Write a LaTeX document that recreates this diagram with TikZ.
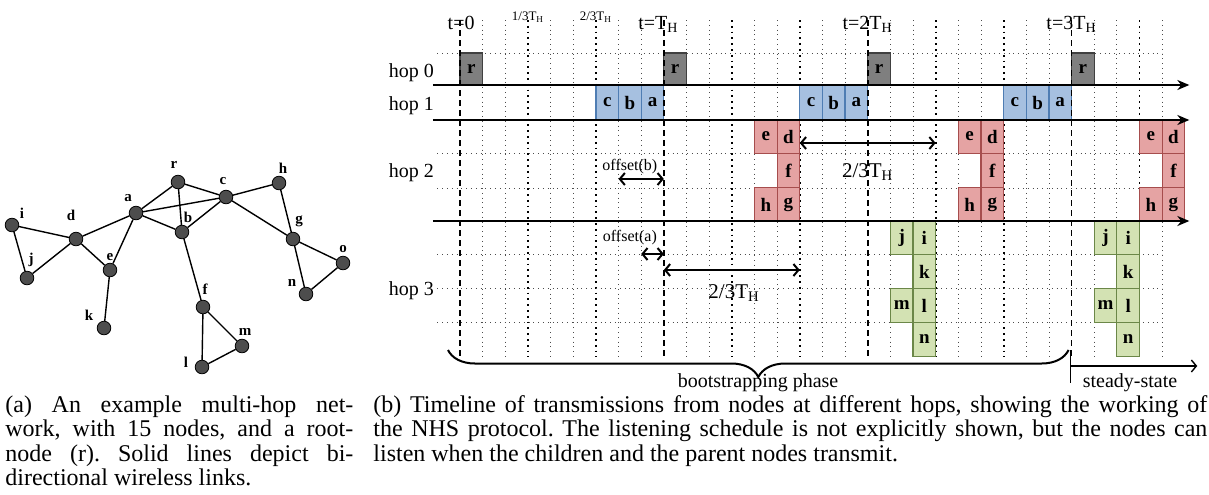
\documentclass[tikz,border=0pt]{standalone}
\usepackage{fontspec}
\setmainfont{Liberation Serif}
\usetikzlibrary{arrows.meta,decorations.pathreplacing}
\definecolor{vtxgray}{HTML}{4D4D4D}
\definecolor{rootfill}{HTML}{7F7F7F}
\definecolor{bluefill}{HTML}{A6C0E0}
\definecolor{blueline}{HTML}{4F7DB3}
\definecolor{redfill}{HTML}{E5A3A3}
\definecolor{redline}{HTML}{A64D4D}
\definecolor{greenfill}{HTML}{D3E2B3}
\definecolor{greenline}{HTML}{6B8748}
\frenchspacing

\begin{document}
\begin{tikzpicture}[x=0.5pt, y=-0.5pt,
  vtx/.style={circle, draw, fill=vtxgray, minimum size=6.8pt, inner sep=0pt},
  lbl/.style={font=\bfseries\fontsize{7.5}{8}\selectfont, inner sep=0pt},
  link/.style={line width=0.7pt},
  caption/.style={inner sep=0pt, align=justify, font=\fontsize{12}{12.3}\selectfont}]
  \tikzset{pkt/.style={draw, line width=0.6pt, minimum width=11.325pt, inner sep=0pt,
    outer sep=0pt, font=\bfseries\fontsize{9.5}{10}\selectfont}}
  \tikzset{p0/.style={pkt, fill=rootfill, draw=black!75, minimum height=16pt}}
  \tikzset{p1/.style={pkt, fill=bluefill, draw=blueline, minimum height=17.5pt}}
  \tikzset{p2/.style={pkt, fill=redfill, draw=redline, minimum height=16.75pt}}
  \tikzset{p3/.style={pkt, fill=greenfill, draw=greenline, minimum height=17pt}}
  \tikzset{grid/.style={black!70, line width=0.4pt, dotted}}
  \tikzset{third/.style={black, line width=0.9pt, dotted}}
  \tikzset{tperiod/.style={black, line width=0.9pt, dash pattern=on 3pt off 2pt}}
  \tikzset{axis/.style={line width=1.3pt, -{Stealth[length=6pt, width=5pt]}}}
  \tikzset{span/.style={line width=1pt, {Straight Barb[length=2.5pt, width=6pt]}-{Straight Barb[length=2.5pt, width=6pt]}}}
  \useasboundingbox (0,0) rectangle (1209,494);

  % (a) network
  \node[vtx] (r) at (178,182) {};
  \node[vtx] (c) at (226,197) {};
  \node[vtx] (h) at (279,183) {};
  \node[vtx] (a) at (136,213) {};
  \node[vtx] (b) at (182,232) {};
  \node[vtx] (i) at (12,225) {};
  \node[vtx] (d) at (76,239) {};
  \node[vtx] (g) at (293,239) {};
  \node[vtx] (o) at (343,263) {};
  \node[vtx] (j) at (27,278) {};
  \node[vtx] (e) at (110,270) {};
  \node[vtx] (n) at (306,294) {};
  \node[vtx] (f) at (203,307) {};
  \node[vtx] (k) at (104,328) {};
  \node[vtx] (m) at (242,346) {};
  \node[vtx] (l) at (202,367) {};
  \draw[link] (r) -- (a);
  \draw[link] (r) -- (c);
  \draw[link] (r) -- (b);
  \draw[link] (a) -- (c);
  \draw[link] (a) -- (b);
  \draw[link] (a) -- (d);
  \draw[link] (a) -- (e);
  \draw[link] (b) -- (c);
  \draw[link] (b) -- (f);
  \draw[link] (c) -- (h);
  \draw[link] (c) -- (g);
  \draw[link] (h) -- (g);
  \draw[link] (g) -- (o);
  \draw[link] (g) -- (n);
  \draw[link] (n) -- (o);
  \draw[link] (d) -- (i);
  \draw[link] (d) -- (j);
  \draw[link] (d) -- (e);
  \draw[link] (i) -- (j);
  \draw[link] (e) -- (k);
  \draw[link] (f) -- (m);
  \draw[link] (f) -- (l);
  \draw[link] (l) -- (m);
  \node[lbl] (rl) at (174,165) {r};
  \node[lbl] (cl) at (223,181) {c};
  \node[lbl] (hl) at (283,168) {h};
  \node[lbl] (al) at (128,198) {a};
  \node[lbl] (bl) at (188,217) {b};
  \node[lbl] (il) at (22,213) {i};
  \node[lbl] (dl) at (71,215) {d};
  \node[lbl] (gl) at (299,221) {g};
  \node[lbl] (ol) at (343,249) {o};
  \node[lbl] (jl) at (31,260) {j};
  \node[lbl] (el) at (110,257) {e};
  \node[lbl] (nl) at (292,283) {n};
  \node[lbl] (fl) at (205,289) {f};
  \node[lbl] (kl) at (89,315) {k};
  \node[lbl] (ml) at (245,332) {m};
  \node[lbl] (ll) at (186,362) {l};

  % (b) timeline, one x unit = one slot
  \begin{scope}[xshift=230pt, x=11.325pt]
    \foreach \k in {1,2,4,5,7,8,10,11,13,14,16,17,19,20,22,23,25,26,28,29,31}
      \draw[grid] (\k,20) -- (\k,357);
    \foreach \k in {3,6,12,15,21,24,30}
      \draw[third] (\k,20) -- (\k,357);
    \foreach \y in {53,153,188,254,288,322}
      \draw[grid] (-1,\y) -- (31,\y);
    % hop 0
    \foreach \n/\o in {0/0,1/9,2/18,3/27}
      \node[p0] (r\n) at (\o+0.5,69) {r};
    % hop 1
    \foreach \n/\o in {1/6,2/15,3/24} {
      \node[p1] (c\n) at (\o+0.5,102.5) {c};
      \node[p1] (b\n) at (\o+1.5,102.5) {b};
      \node[p1] (a\n) at (\o+2.5,102.5) {a};
    }
    % hop 2
    \foreach \n/\o in {1/13,2/22,3/30} {
      \node[p2] (e\n) at (\o+0.5,136.5) {e};
      \node[p2] (d\n) at (\o+1.5,136.5) {d};
      \node[p2] (f\n) at (\o+1.5,170.5) {f};
      \node[p2] (h\n) at (\o+0.5,204.5) {h};
      \node[p2] (g\n) at (\o+1.5,204.5) {g};
    }
    % hop 3
    \foreach \n/\o in {1/19,2/28} {
      \node[p3] (j\n) at (\o+0.5,237.5) {j};
      \node[p3] (i\n) at (\o+1.5,237.5) {i};
      \node[p3] (k\n) at (\o+1.5,271.5) {k};
      \node[p3] (m\n) at (\o+0.5,305.5) {m};
      \node[p3] (l\n) at (\o+1.5,305.5) {l};
      \node[p3] (n\n) at (\o+1.5,339.5) {n};
    }
    \foreach \k in {0,9,18,27}
      \draw[tperiod] (\k,20) -- (\k,357);
    \foreach \y in {85,120,221}
      \draw[axis] (-1.2,\y) -- (32.2,\y);
    % time marks
    \node[anchor=base, font=\fontsize{10}{12}\selectfont] (t0) at (0.05,29) {t=0};
    \node[anchor=base, font=\fontsize{6.5}{8}\selectfont] (t13) at (3,20) {1/3T\textsubscript{H}};
    \node[anchor=base, font=\fontsize{6.5}{8}\selectfont] (t23) at (6,20) {2/3T\textsubscript{H}};
    \node[anchor=base, font=\fontsize{10}{12}\selectfont] (t1) at (8.76,29) {t=T\textsubscript{H}};
    \node[anchor=base, font=\fontsize{10}{12}\selectfont] (t2) at (18,29) {t=2T\textsubscript{H}};
    \node[anchor=base, font=\fontsize{10}{12}\selectfont] (t3) at (27,29) {t=3T\textsubscript{H}};
    % hops
    \node[anchor=base east, font=\fontsize{10}{12}\selectfont] (hop0) at (-0.84,77) {hop 0};
    \node[anchor=base east, font=\fontsize{10}{12}\selectfont] (hop1) at (-0.84,110) {hop 1};
    \node[anchor=base east, font=\fontsize{10}{12}\selectfont] (hop2) at (-0.84,177) {hop 2};
    \node[anchor=base east, font=\fontsize{10}{12}\selectfont] (hop3) at (-0.84,295) {hop 3};
    % offsets
    \draw[span] (7,179) -- (9,179);
    \draw[span] (8,254) -- (9,254);
    \draw[span] (9,270) -- (15,270);
    \draw[span] (15,143) -- (21,143);
    \node[font=\fontsize{8}{9}\selectfont] (offb) at (7.5,167) {offset(b)};
    \node[font=\fontsize{8}{9}\selectfont] (offa) at (7.5,238) {offset(a)};
    \node[anchor=base, font=\fontsize{10.5}{12}\selectfont] (span2) at (18,177) {2/3T\textsubscript{H}};
    \node[anchor=base, font=\fontsize{10.5}{12}\selectfont] (span3) at (12.1,298) {2/3T\textsubscript{H}};
    % phases
    \draw[line width=1pt, decorate, decoration={brace, mirror, amplitude=13.5pt}]
      (-0.53,350) -- (26.87,350);
    \draw[line width=0.8pt] (26.95,350) -- (26.95,383);
    \draw[line width=0.7pt, -{Straight Barb[length=2.5pt, width=6pt]}] (26.95,366) -- (32.55,366);
    \node[inner sep=0pt, font=\fontsize{10}{12}\selectfont] (boot) at (13.16,383) {bootstrapping phase};
    \node[inner sep=0pt, font=\fontsize{10}{12}\selectfont] (steady) at (29.58,383) {steady-state};
  \end{scope}

  % captions
  \node[caption, anchor=north west, text width=174pt] (capa) at (5,395)
    {(a) An example multi-hop net-\linebreak work, with 15 nodes, and a root-\linebreak
     node (r). Solid lines depict bi-\linebreak directional wireless links.};
  \node[caption, anchor=north west, text width=417pt] (capb) at (373,395)
    {(b) Timeline of transmissions from nodes at different hops, showing the working of\linebreak
     the NHS protocol. The listening schedule is not explicitly shown, but the nodes can\linebreak
     listen when the children and the parent nodes transmit.};
\end{tikzpicture}
\end{document}
